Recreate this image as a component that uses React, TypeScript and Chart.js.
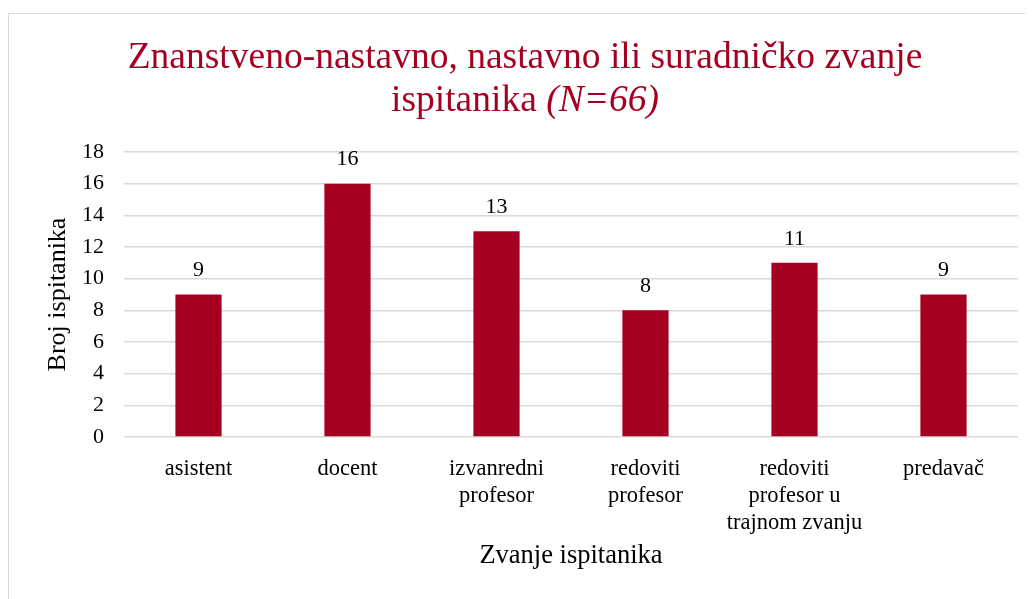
import React, { useEffect, useRef } from "react";
import { Chart, registerables } from "chart.js";

Chart.register(...registerables);

const titleLine1 = "Znanstveno-nastavno, nastavno ili suradničko zvanje";
const titleLine2Normal = "ispitanika ";
const titleLine2Italic = "(N=66)";
const categories: (string | string[])[] = [
  "asistent",
  "docent",
  ["izvanredni", "profesor"],
  ["redoviti", "profesor"],
  ["redoviti", "profesor u", "trajnom zvanju"],
  "predavač",
];
const counts = [9, 16, 13, 8, 11, 9];
const yTitle = "Broj ispitanika";
const xTitle = "Zvanje ispitanika";

const RED = "#A50021";
const FONT = "'Liberation Serif', 'Times New Roman', serif";

const titlePlugin = {
  id: "customTitle",
  afterDraw(chart: any) {
    const ctx = chart.ctx;
    ctx.save();
    ctx.fillStyle = RED;
    ctx.textBaseline = "alphabetic";
    const cx = 516;
    ctx.font = `37.5px ${FONT}`;
    ctx.textAlign = "center";
    ctx.fillText(titleLine1, cx, 54);
    ctx.textAlign = "left";
    const w1 = ctx.measureText(titleLine2Normal).width;
    ctx.font = `italic 37.5px ${FONT}`;
    const w2 = ctx.measureText(titleLine2Italic).width;
    const start = cx - (w1 + w2) / 2;
    ctx.font = `37.5px ${FONT}`;
    ctx.fillText(titleLine2Normal, start, 97);
    ctx.font = `italic 37.5px ${FONT}`;
    ctx.fillText(titleLine2Italic, start + w1, 97);
    ctx.restore();
  },
};

const labelPlugin = {
  id: "valueLabels",
  afterDatasetsDraw(chart: any) {
    const ctx = chart.ctx;
    const meta = chart.getDatasetMeta(0);
    ctx.save();
    ctx.fillStyle = "#000";
    ctx.font = `22px ${FONT}`;
    ctx.textAlign = "center";
    ctx.textBaseline = "middle";
    meta.data.forEach((bar: any, i: number) => {
      ctx.fillText(String(counts[i]), bar.x, bar.y - 24);
    });
    ctx.restore();
  },
};

export default function App() {
  const ref = useRef<HTMLCanvasElement>(null);
  useEffect(() => {
    document.documentElement.style.overflow = "hidden";
    document.body.style.overflow = "hidden";
    const chart = new Chart(ref.current!, {
      type: "bar",
      data: {
        labels: categories,
        datasets: [
          {
            data: counts,
            backgroundColor: RED,
            barPercentage: 0.31,
            categoryPercentage: 1,
          },
        ],
      },
      options: {
        responsive: false,
        animation: false,
        layout: { padding: { top: 138, right: 15, left: 0, bottom: 0 } },
        plugins: {
          legend: { display: false },
          tooltip: { enabled: false },
          title: { display: false },
        },
        scales: {
          x: {
            grid: { display: false },
            border: { display: false },
            ticks: {
              color: "#000",
              font: { family: FONT, size: 22.5, lineHeight: 1.2 },
              padding: 11,
              maxRotation: 0,
              autoSkip: false,
            },
            title: {
              display: true,
              text: xTitle,
              color: "#000",
              font: { family: FONT, size: 26.5, lineHeight: 1.2 },
              padding: { top: 0, bottom: 27 },
            },
            afterFit(scale: any) {
              scale.height = 162;
            },
          },
          y: {
            min: 0,
            max: 18,
            grid: { color: "#d9d9d9", lineWidth: 1.5, drawTicks: false },
            border: { display: false },
            ticks: {
              stepSize: 2,
              color: "#000",
              font: { family: FONT, size: 22 },
              padding: 20,
            },
            title: {
              display: true,
              text: yTitle,
              color: "#000",
              font: { family: FONT, size: 26, lineHeight: 1.2 },
              padding: { top: 34, bottom: 0 },
            },
            afterFit(scale: any) {
              scale.width = 115;
            },
          },
        },
      },
      plugins: [titlePlugin, labelPlugin],
    });
    return () => chart.destroy();
  }, []);
  return (
    <div
      style={{
        marginTop: 5,
        width: 1024,
        height: 585,
        borderLeft: "1px solid #d9d9d9",
        borderTop: "1px solid #d9d9d9",
        background: "#fff",
      }}
    >
      <canvas ref={ref} width={1024} height={585} style={{ display: "block" }} />
    </div>
  );
}
